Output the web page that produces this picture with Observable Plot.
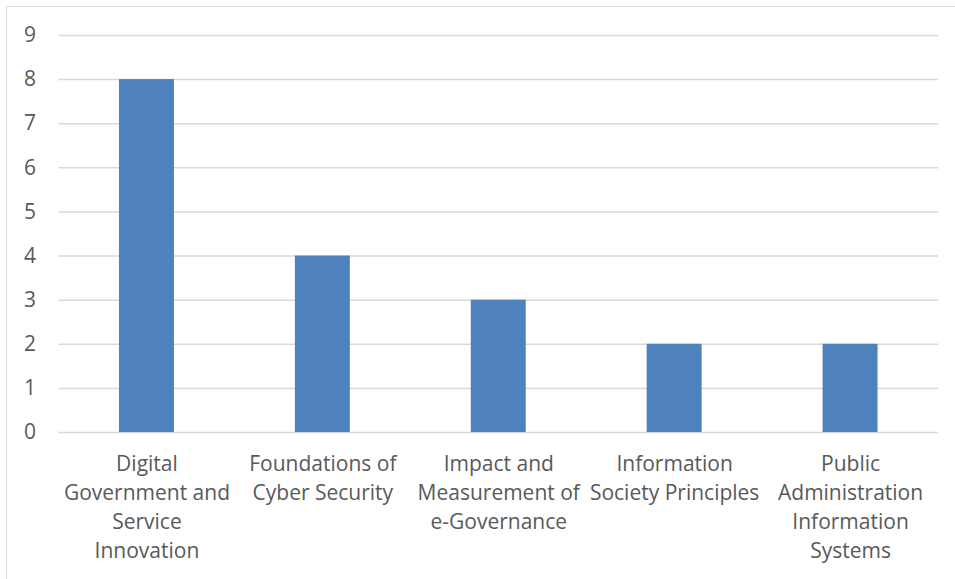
<!DOCTYPE html>
<html>
<head>
<meta charset="utf-8">
<script src="https://cdn.jsdelivr.net/npm/d3@7"></script>
<script src="https://cdn.jsdelivr.net/npm/@observablehq/plot@0.6"></script>
<style>
  html, body { margin: 0; padding: 0; background: #fff; }
  #wrap { position: relative; width: 955px; height: 579px; overflow: hidden; }
  #frame { position: absolute; left: 6px; top: 6px; width: 1200px; height: 800px; border-left: 1.5px solid #d9d9d9; border-top: 1.5px solid #d9d9d9; }
  #chart { position: absolute; left: 0; top: 0; }
</style>
</head>
<body>
<div id="wrap"><div id="frame"></div><div id="chart"></div></div>
<script>
const categories = [
  "Digital Government and Service Innovation",
  "Foundations of Cyber Security",
  "Impact and Measurement of e-Governance",
  "Information Society Principles",
  "Public Administration Information Systems"
];
const values = [8, 4, 3, 2, 2];
const tickLabels = [
  "Digital\nGovernment and\nService\nInnovation",
  "Foundations of\nCyber Security",
  "Impact and\nMeasurement of\ne-Governance",
  "Information\nSociety Principles",
  "Public\nAdministration\nInformation\nSystems"
];
const yTicks = [0, 1, 2, 3, 4, 5, 6, 7, 8, 9];

const data = categories.map((c, i) => ({category: c, value: values[i]}));
const labelOf = new Map(categories.map((c, i) => [c, tickLabels[i]]));

const chart = Plot.plot({
  width: 955,
  height: 579,
  marginLeft: 58.5,
  marginRight: 17,
  marginTop: 35,
  marginBottom: 147,
  style: {fontFamily: "'Open Sans', sans-serif", fontSize: "21px", color: "#595959", background: "transparent"},
  x: {domain: categories, paddingInner: 0.6875, paddingOuter: 0.34375, round: false, label: null},
  y: {domain: [0, 9], label: null},
  marks: [
    Plot.gridY(yTicks, {stroke: "#d9d9d9", strokeOpacity: 1, strokeWidth: 1.5}),
    Plot.barY(data, {x: "category", y: "value", fill: "#4f81bd"}),
    Plot.axisY({ticks: yTicks, tickSize: 0, tickPadding: 23, fontSize: 21, fill: "#595959", label: null}),
    Plot.axisX({tickSize: 0, tickPadding: 18, fontSize: 21, fill: "#595959", lineHeight: 1.38, tickFormat: d => labelOf.get(d), label: null})
  ]
});
document.getElementById("chart").appendChild(chart);
</script>
</body>
</html>
